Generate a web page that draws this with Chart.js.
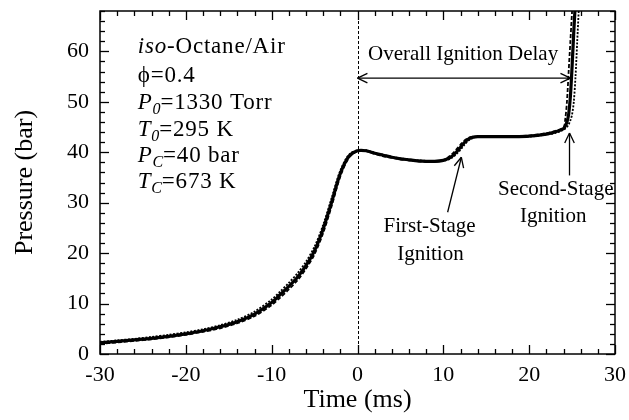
<!DOCTYPE html>
<html>
<head>
<meta charset="utf-8">
<script src="https://cdn.jsdelivr.net/npm/chart.js@4"></script>
<style>
  body { margin: 0; background: #fff; }
</style>
</head>
<body>
<canvas id="pressureChart" width="629" height="420"></canvas>
<script>
// time after end of compression (ms) and three repeat runs (bar)
const timeMs = [-30, -28, -26, -24, -22, -20, -18, -16, -14, -12, -10, -9, -8, -7, -6, -5, -4, -3, -2, -1,
    0, 1, 2, 3, 4, 5, 6, 7, 8, 9, 10, 10.5, 11, 11.5, 12, 12.5, 13, 13.5, 14, 15, 16, 18, 20, 22, 23,
    24, 24.2, 24.4, 24.6, 24.8, 25, 25.2, 25.4, 25.6, 25.8];
const pressureRun1 = [2.2, 2.5, 2.8, 3.1, 3.5, 4.0, 4.6, 5.4, 6.4, 7.9, 10.2, 11.8, 13.4, 15.2, 17.5, 20.5, 24.8, 30.2, 35.8, 39.2,
    40.3, 40.3, 39.8, 39.4, 39.0, 38.7, 38.5, 38.3, 38.2, 38.2, 38.4, 38.7, 39.2, 40.0, 41.0, 42.0, 42.7, 43.0, 43.1, 43.1, 43.1, 43.1, 43.2, 43.6, 44.0,
    44.7, 45.2, 46.0, 47.5, 51, 57, 64, 70, 75, 80];
const pressureRun2 = [2.0, 2.3, 2.6, 2.9, 3.3, 3.8, 4.4, 5.1, 6.1, 7.5, 9.7, 11.2, 12.8, 14.6, 16.9, 19.8, 24.0, 29.4, 35.2, 38.9,
    40.2, 40.2, 39.7, 39.2, 38.9, 38.6, 38.4, 38.2, 38.1, 38.1, 38.5, 38.9, 39.6, 40.5, 41.5, 42.4, 42.9, 43.1, 43.1, 43.1, 43.1, 43.2, 43.3, 43.8, 44.2,
    44.9, 46.5, 50, 56, 62, 68, 74, 79, 83, 86];
const pressureRun3 = [2.4, 2.7, 3.0, 3.4, 3.8, 4.3, 4.9, 5.7, 6.8, 8.4, 10.8, 12.4, 14.1, 16.0, 18.3, 21.3, 25.6, 31.0, 36.4, 39.5,
    40.4, 40.4, 39.9, 39.5, 39.1, 38.8, 38.6, 38.4, 38.3, 38.2, 38.3, 38.5, 38.9, 39.6, 40.5, 41.6, 42.4, 42.9, 43.1, 43.1, 43.1, 43.1, 43.1, 43.5, 43.8,
    44.4, 44.7, 45.0, 45.5, 46.3, 47.5, 50, 55, 62, 69];

const xMin = -30, xMax = 30, yMin = 0, yMax = 68;

const SERIF = '"Liberation Serif", "Times New Roman", "DejaVu Serif", serif';

function pts(ys) {
    return timeMs.map((t, i) => ({ x: t, y: ys[i] }));
}

// text lines of the test conditions, drawn at data coords
const conditionLines = [
    [{ t: 'iso', i: true }, { t: '-Octane/Air' }],
    [{ t: 'ϕ' }, { t: '=0.4' }],
    [{ t: 'P', i: true }, { t: '0', i: true, sub: true }, { t: '=1330 Torr' }],
    [{ t: 'T', i: true }, { t: '0', i: true, sub: true }, { t: '=295 K' }],
    [{ t: 'P', i: true }, { t: 'C', i: true, sub: true }, { t: '=40 bar' }],
    [{ t: 'T', i: true }, { t: 'C', i: true, sub: true }, { t: '=673 K' }]
];
const conditionX = -25.6;
const conditionY = [59.7, 53.9, 48.5, 43.3, 38.1, 32.9];

const labels = [
    { text: 'Overall Ignition Delay', x: 12.3, y: 58.2 },
    { text: 'First-Stage', x: 8.4, y: 24.2 },
    { text: 'Ignition', x: 8.5, y: 18.6 },
    { text: 'Second-Stage', x: 23.1, y: 31.5 },
    { text: 'Ignition', x: 22.8, y: 26.1 }
];
// [fromX, fromY, toX, toY, doubleHeaded]
const arrows = [
    [0, 54.7, 24.8, 54.7, true],
    [10.5, 28.1, 12.1, 39.0, false],
    [24.7, 35.4, 24.7, 43.8, false]
];

function line(ctx, x1, y1, x2, y2) {
    ctx.beginPath();
    ctx.moveTo(x1, y1);
    ctx.lineTo(x2, y2);
    ctx.stroke();
}

function arrowHead(ctx, fx, fy, tx, ty) {
    const ang = Math.atan2(ty - fy, tx - fx);
    const len = 11, spread = 0.45;
    line(ctx, tx, ty, tx - len * Math.cos(ang - spread), ty - len * Math.sin(ang - spread));
    line(ctx, tx, ty, tx - len * Math.cos(ang + spread), ty - len * Math.sin(ang + spread));
}

const frameTicks = {
    id: 'frameTicks',
    afterDraw(chart) {
        const { ctx, chartArea: a, scales: { x, y } } = chart;
        ctx.save();
        ctx.strokeStyle = '#000';
        ctx.lineWidth = 1.5;
        ctx.strokeRect(a.left, a.top, a.right - a.left, a.bottom - a.top);
        ctx.lineWidth = 1.3;
        for (let v = xMin; v <= xMax; v += 2) {
            const px = Math.round(x.getPixelForValue(v)) + 0.5;
            const len = v % 10 === 0 ? 9 : 5;
            line(ctx, px, a.bottom, px, a.bottom - len);
            line(ctx, px, a.top, px, a.top + len);
        }
        for (let v = yMin; v <= yMax; v += 2) {
            const py = Math.round(y.getPixelForValue(v)) + 0.5;
            const len = v % 10 === 0 ? 9 : 5;
            line(ctx, a.left, py, a.left + len, py);
            line(ctx, a.right, py, a.right - len, py);
        }
        ctx.restore();
    }
};

const notes = {
    id: 'notes',
    beforeDatasetsDraw(chart) {
        const { ctx, chartArea: a, scales: { x } } = chart;
        ctx.save();
        ctx.strokeStyle = '#000';
        ctx.lineWidth = 1;
        ctx.setLineDash([3, 2]);
        const px = Math.round(x.getPixelForValue(0)) + 0.5;
        line(ctx, px, a.top, px, a.bottom);
        ctx.restore();
    },
    afterDatasetsDraw(chart) {
        const { ctx, scales: { x, y } } = chart;
        ctx.save();
        ctx.fillStyle = '#000';
        ctx.strokeStyle = '#000';
        ctx.textBaseline = 'alphabetic';

        // condition block
        ctx.letterSpacing = '0.8px';
        conditionLines.forEach((segs, k) => {
            let cx = x.getPixelForValue(conditionX);
            const by = y.getPixelForValue(conditionY[k]);
            segs.forEach(s => {
                const size = s.sub ? 16 : 23;
                ctx.font = (s.i ? 'italic ' : '') + size + 'px ' + SERIF;
                ctx.textAlign = 'left';
                ctx.fillText(s.t, cx, by + (s.sub ? 5 : 0));
                cx += ctx.measureText(s.t).width - (s.sub ? 1 : 0);
            });
        });
        ctx.letterSpacing = '0px';

        ctx.font = '21px ' + SERIF;
        ctx.textAlign = 'center';
        labels.forEach(l => ctx.fillText(l.text, x.getPixelForValue(l.x), y.getPixelForValue(l.y)));

        ctx.lineWidth = 1.3;
        arrows.forEach(([x1, y1, x2, y2, both]) => {
            const fx = x.getPixelForValue(x1), fy = y.getPixelForValue(y1);
            const tx = x.getPixelForValue(x2), ty = y.getPixelForValue(y2);
            line(ctx, fx, fy, tx, ty);
            arrowHead(ctx, fx, fy, tx, ty);
            if (both) arrowHead(ctx, tx, ty, fx, fy);
        });
        ctx.restore();
    }
};

new Chart(document.getElementById('pressureChart'), {
    type: 'line',
    data: {
        datasets: [
            { data: pts(pressureRun2), borderColor: '#000', borderWidth: 1.8, borderDash: [4, 2], pointRadius: 0, tension: 0.3 },
            { data: pts(pressureRun3), borderColor: '#000', borderWidth: 1.8, borderDash: [2, 1.5], pointRadius: 0, tension: 0.3 },
            { data: pts(pressureRun1), borderColor: '#000', borderWidth: 3.2, pointRadius: 0, tension: 0.3 }
        ]
    },
    options: {
        responsive: false,
        animation: false,
        devicePixelRatio: 1,
        layout: { padding: { left: 0, right: 14, top: 11, bottom: 0 } },
        plugins: { legend: { display: false }, tooltip: { enabled: false } },
        scales: {
            x: {
                type: 'linear',
                min: xMin,
                max: xMax,
                grid: { display: false, drawTicks: false },
                border: { display: false },
                ticks: { stepSize: 10, padding: 8, color: '#000', font: { family: SERIF, size: 22 } },
                title: { display: true, text: 'Time (ms)', color: '#000', font: { family: SERIF, size: 26 }, padding: { top: 0, bottom: 4 } },
                afterFit(scale) {
                    scale.height = 66;
                    scale.paddingLeft = 0;
                    scale.paddingRight = 0;
                }
            },
            y: {
                min: yMin,
                max: yMax,
                grid: { display: false, drawTicks: false },
                border: { display: false },
                ticks: { stepSize: 10, padding: 11, includeBounds: false, color: '#000', font: { family: SERIF, size: 22 } },
                title: { display: true, text: 'Pressure (bar)', color: '#000', font: { family: SERIF, size: 26 }, padding: { top: 10, bottom: 0 } },
                afterFit(scale) {
                    scale.width = 100;
                    scale.paddingTop = 0;
                    scale.paddingBottom = 0;
                }
            }
        }
    },
    plugins: [frameTicks, notes]
});
</script>
</body>
</html>
